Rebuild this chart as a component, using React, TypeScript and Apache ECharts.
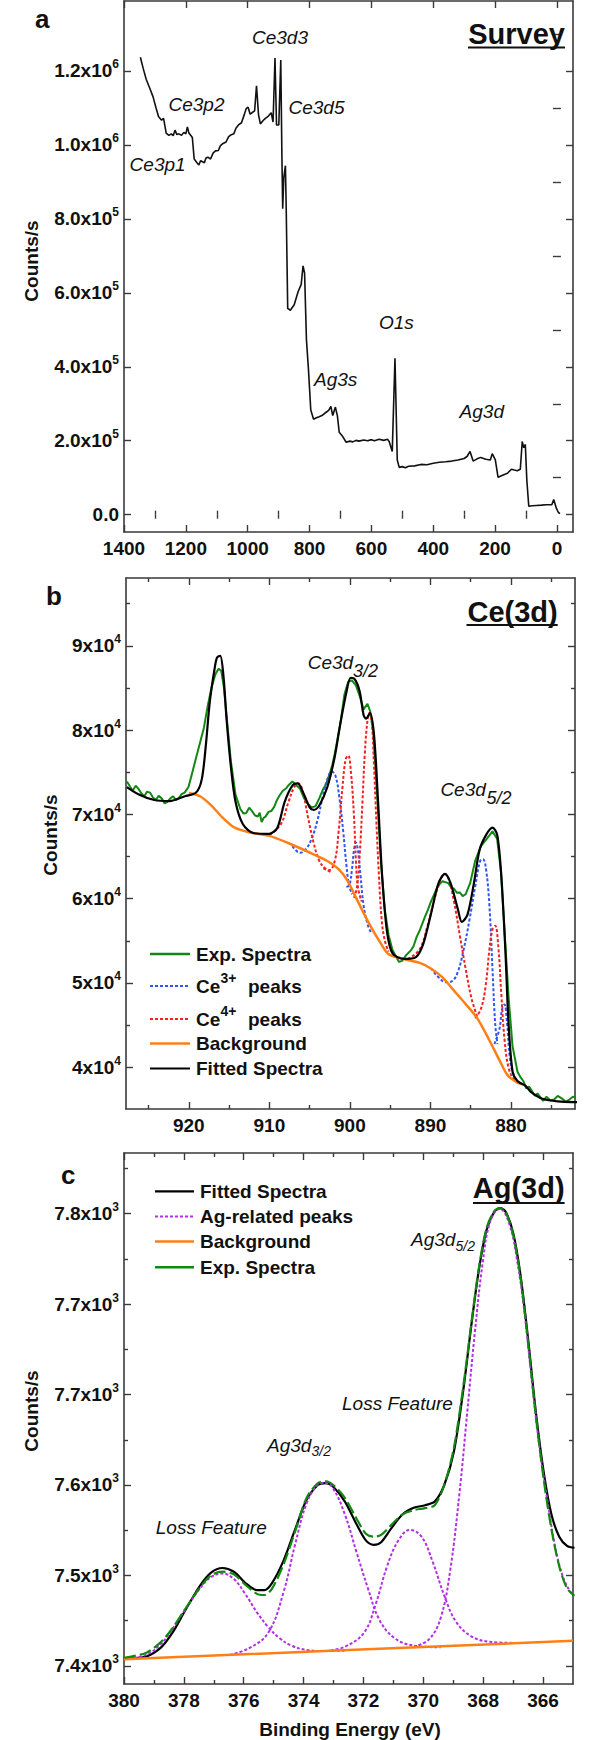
import React, { useEffect, useRef } from 'react';
import * as echarts from 'echarts';

const FONT = "'Liberation Sans', Arial, Helvetica, sans-serif";

// ---------------- Panel a: survey ----------------
const surveyBE = [1347, 1338, 1328, 1316, 1306, 1297, 1288.5, 1278.5, 1272, 1263.6, 1255, 1247, 1241, 1235, 1229, 1222.6, 1214, 1206.4, 1200, 1195, 1190, 1185, 1179, 1173, 1164, 1158, 1152, 1148, 1140, 1135, 1129, 1120, 1112, 1104, 1095, 1088, 1079.5, 1070, 1062, 1054.6, 1045, 1038, 1029.8, 1020, 1011, 1005, 998.7, 992, 986.4, 977.6, 971.5, 965, 959, 950, 942.8, 933, 924, 918, 911.7, 906.8, 899.4, 893, 889.4, 886.8, 883.2, 878, 875.5, 870.6, 862, 849.6, 837, 827, 821, 816, 810, 803.5, 796, 787, 778, 768.8, 760, 750, 743, 737.6, 731, 725, 716.4, 710, 704, 694, 681.6, 670, 660, 650, 640, 625, 612, 600, 590, 575, 560, 548, 542.5, 532.5, 523.7, 516.3, 510, 500, 490, 480, 460, 440, 420, 400, 380, 360, 340, 320, 300, 290, 281, 271, 258, 246.4, 230, 215.3, 209.2, 199.2, 190.4, 172, 160, 147, 138, 128.4, 118.4, 112.2, 107.3, 102.2, 97.3, 91, 80, 66.3, 50, 35, 16.5, 10.3, 1.6, -4.8, -10];
const surveyCounts = [1237000, 1207000, 1177000, 1152000, 1130000, 1102000, 1077000, 1067000, 1072000, 1032000, 1026000, 1030000, 1025000, 1040000, 1028000, 1030000, 1026000, 1034000, 1030000, 1049000, 1032000, 1027000, 1020000, 962000, 952000, 946000, 958000, 955000, 952000, 965000, 967000, 962000, 978000, 984000, 985000, 998000, 1004000, 1008000, 1022000, 1027000, 1030000, 1045000, 1054000, 1060000, 1082000, 1098000, 1102000, 1083000, 1087000, 1092000, 1160000, 1082000, 1057000, 1066000, 1072000, 1078000, 1087000, 1062000, 1235000, 1054000, 1054000, 1230000, 972000, 827500, 912000, 944000, 832000, 558000, 553000, 568000, 603000, 623000, 673000, 653000, 473000, 393000, 283000, 258000, 262000, 265000, 268000, 275000, 279000, 283000, 293000, 268000, 291000, 268000, 223000, 213000, 196000, 199000, 197000, 201000, 199000, 202000, 200000, 203000, 200000, 204000, 201000, 204000, 198000, 171000, 423000, 148000, 128000, 130000, 127000, 131000, 132000, 136000, 135000, 139000, 142000, 143000, 145000, 148000, 152000, 158000, 171000, 145000, 151000, 155000, 150000, 148000, 165000, 148000, 101000, 108000, 112000, 123000, 121000, 119000, 123000, 198000, 181000, 190000, 93000, 23000, 24000, 25000, 26000, 27000, 27000, 41000, 17000, 6000, 3000];
const surveyXTicks = [0, 200, 400, 600, 800, 1000, 1200, 1400];
const surveyXMinor = [100, 300, 500, 700, 900, 1100, 1300];
const surveyXLabels = ['0', '200', '400', '600', '800', '1000', '1200', '1400'];
const surveyYTicks = [0, 200000, 400000, 600000, 800000, 1000000, 1200000];
const surveyYMinor = [100000, 300000, 500000, 700000, 900000, 1100000, 1300000];
const surveyYLabels = ['0.0', '2.0x10^5', '4.0x10^5', '6.0x10^5', '8.0x10^5', '1.0x10^6', '1.2x10^6'];

// ---------------- Panel b: Ce(3d) ----------------
const ceExpE = [927.69, 927.3, 926.97, 926.6, 926.25, 925.9, 925.53, 925.2, 924.82, 924.45, 924.1, 923.75, 923.39, 923.0, 922.67, 922.3, 921.95, 921.6, 921.24, 920.9, 920.52, 920.04, 919.56, 919.09, 918.61, 918.13, 917.65, 917.17, 916.7, 916.31, 915.98, 915.65, 915.26, 914.78, 914.21, 913.59, 913.2, 912.87, 912.5, 912.15, 911.8, 911.44, 911.2, 910.96, 910.7, 910.48, 910.1, 909.77, 909.4, 909.05, 908.7, 908.33, 907.9, 907.62, 907.14, 906.66, 906.18, 905.7, 905.22, 904.75, 904.27, 903.79, 903.31, 902.95, 902.6, 902.2, 901.88, 901.16, 900.68, 900.21, 899.73, 899.25, 898.77, 898.3, 897.82, 897.48, 897.11, 896.63, 896.15, 895.67, 895.2, 894.72, 894.24, 893.9, 893.52, 893.1, 892.81, 892.4, 892.09, 891.7, 891.37, 890.66, 890.3, 889.94, 889.22, 888.8, 888.51, 887.79, 887.4, 887.07, 886.7, 886.36, 886.0, 885.64, 885.07, 884.45, 883.73, 883.01, 882.3, 881.72, 881.24, 880.77, 880.29, 879.81, 879.19, 878.8, 878.47, 878.1, 877.76, 877.4, 877.04, 876.7, 876.32, 876.0, 875.61, 875.1, 874.65, 874.2, 873.7, 873.2, 872.74, 872.3, 871.79];
const ceExpC = [73900, 73300, 72807, 73400, 73026, 72500, 72149, 72700, 72588, 72000, 71711, 72200, 71930, 71300, 71491, 71900, 72149, 71700, 71930, 72400, 72588, 73246, 75000, 76754, 78509, 80263, 82895, 85088, 86623, 87281, 87061, 85088, 81140, 76316, 72368, 70614, 70100, 70175, 70800, 70395, 69900, 69737, 70200, 69079, 69600, 69737, 70300, 70395, 70900, 71711, 72300, 72807, 73100, 73465, 73904, 73465, 73026, 71930, 71272, 70833, 70965, 71930, 73026, 73600, 74561, 75800, 77193, 80921, 84211, 85746, 85877, 85307, 83991, 82456, 83114, 82237, 79825, 72368, 64474, 58772, 55702, 53947, 53070, 52500, 52631, 53200, 53509, 53900, 54386, 55500, 56140, 57895, 58700, 59649, 61184, 61800, 62061, 61842, 61300, 61184, 60700, 60746, 60300, 60526, 61842, 64474, 66228, 67105, 67983, 67105, 63158, 55702, 48246, 42544, 39474, 38800, 38377, 37500, 37719, 37200, 36623, 36900, 36404, 36000, 36491, 36100, 36184, 36600, 36316, 35900, 36184, 36500, 36404];

const ce3aE = [907.14, 906.18, 905.46, 904.75, 904.03, 903.31, 902.74, 902.26, 901.78, 901.3, 900.83, 900.44, 900.11, 899.73];
const ce3aC = [66228, 65438, 65877, 67105, 69298, 72368, 74342, 75088, 74561, 71930, 67983, 64035, 61623, 60526];
const ce3bE = [900.44, 900.06, 899.73, 899.49, 899.25, 899.01, 898.68, 898.3, 897.82, 897.35];
const ce3bC = [61404, 61623, 63596, 65789, 66667, 65789, 62719, 59210, 57017, 55921];
const ce3cE = [889.94, 888.98, 888.03, 887.31, 886.6, 885.88, 885.16, 884.45, 883.83, 883.49, 883.11, 882.68, 882.3, 881.96, 881.68];
const ce3cC = [51754, 50658, 50088, 50219, 51316, 53947, 57456, 61404, 64474, 64693, 63596, 59210, 51754, 45175, 42763];
const ce3dE = [882.06, 881.44, 881.1, 880.82, 880.48, 880.15, 879.67, 878.95];
const ce3dC = [42763, 44518, 46930, 47456, 45175, 41228, 39035, 38158];

const ce4aE = [910.0, 908.57, 907.62, 906.9, 906.42, 905.94, 905.22, 904.51, 903.79, 903.07, 902.36];
const ce4aC = [67544, 68860, 71491, 73246, 73684, 73026, 69737, 66667, 64474, 63596, 63158];
const ce4bE = [903.31, 902.6, 901.88, 901.4, 900.92, 900.53, 900.21, 899.87, 899.49, 899.25, 899.01, 898.54];
const ce4bC = [63596, 63377, 64474, 67983, 73246, 76535, 76973, 75000, 69737, 64474, 61404, 59649];
const ce4cE = [899.49, 899.11, 898.77, 898.44, 898.15, 897.82, 897.58, 897.3, 897.01, 896.72, 896.39, 896.05, 895.67, 895.2];
const ce4cC = [60088, 61404, 65351, 71491, 77193, 81140, 82018, 81140, 75877, 69298, 62719, 57456, 55044, 53728];
const ce4dE = [892.81, 891.37, 890.42, 889.46, 888.75, 888.27, 887.79, 887.07, 886.36, 885.64, 884.92, 884.21];
const ce4dC = [52850, 53947, 56579, 60088, 62281, 62939, 62500, 59649, 55702, 51754, 48246, 46053];
const ce4eE = [884.45, 883.73, 883.16, 882.68, 882.3, 881.96, 881.58, 881.2, 880.77, 880.29, 879.67, 878.95];
const ce4eC = [45833, 46930, 49561, 53947, 56360, 56798, 54386, 48684, 42982, 39912, 38596, 38070];

const ceBgE = [920.0, 918.6, 917.2, 915.7, 914.3, 912.4, 910.0, 907.6, 905.2, 902.8, 901.4, 900.4, 899.0, 897.6, 896.1, 895.2, 893.3, 891.4, 890.0, 888.5, 887.1, 885.7, 884.2, 882.8, 881.4, 880.4, 879.3, 878.5];
const ceBgC = [72544, 72150, 71052, 69518, 68420, 67851, 67456, 66579, 65570, 64474, 63509, 62281, 59649, 57017, 54605, 53421, 52850, 52412, 51754, 50657, 49122, 47587, 45832, 43420, 40789, 39034, 38245, 37938];

const ceFitE = [927.7, 926.2, 924.3, 922.4, 920.5, 919.1, 918.4, 917.9, 917.4, 916.8, 916.5, 916.1, 915.7, 915.3, 914.8, 914.2, 913.3, 911.9, 910.0, 909.0, 908.1, 907.1, 906.5, 905.7, 905.0, 904.5, 903.8, 902.8, 901.9, 901.2, 900.4, 899.9, 899.4, 898.8, 898.3, 898.0, 897.5, 897.0, 896.5, 896.0, 895.4, 894.7, 893.3, 891.8, 890.9, 889.9, 889.0, 888.2, 887.5, 886.6, 886.1, 885.4, 884.6, 883.9, 883.1, 882.3, 881.7, 881.2, 880.7, 880.3, 879.8, 879.2, 878.2, 877.5, 876.1, 874.2, 871.8];
const ceFitC = [73246, 72368, 71710, 71579, 72149, 72588, 74123, 78070, 83333, 87281, 88596, 88816, 86404, 81140, 75877, 71491, 68860, 67763, 67700, 68421, 71491, 73465, 73684, 72368, 70833, 70526, 71052, 73246, 76754, 80702, 84649, 86184, 86053, 84649, 81798, 81360, 82018, 79386, 71491, 62719, 56140, 53509, 52850, 53070, 54605, 58333, 61842, 62939, 61842, 58772, 57237, 58114, 61842, 65789, 67544, 68421, 67544, 62719, 53947, 45175, 39474, 38377, 37807, 37061, 36272, 35965, 35877];

const ceXTicks = [880, 890, 900, 910, 920];
const ceXMinor = [875, 885, 895, 905, 915, 925];
const ceXLabels = ['880', '890', '900', '910', '920'];
const ceYTicks = [40000, 50000, 60000, 70000, 80000, 90000];
const ceYMinor = [45000, 55000, 65000, 75000, 85000, 95000];
const ceYLabels = ['4x10^4', '5x10^4', '6x10^4', '7x10^4', '8x10^4', '9x10^4'];

// ---------------- Panel c: Ag(3d) ----------------
const agFitE = [379.9, 379.27, 378.76, 378.38, 377.99, 377.48, 377.1, 376.71, 376.33, 375.95, 375.56, 375.31, 375.05, 374.67, 374.28, 373.9, 373.52, 373.26, 373.01, 372.62, 372.24, 371.92, 371.66, 371.41, 371.09, 370.7, 370.32, 369.94, 369.62, 369.3, 368.98, 368.66, 368.4, 368.15, 367.89, 367.63, 367.44, 367.25, 366.99, 366.74, 366.48, 366.23, 365.97, 365.72, 365.46, 365.2, 364.95];
const agFitC = [7426.5, 7428.2, 7436.4, 7449.4, 7467.4, 7490.2, 7502.3, 7506.6, 7503.3, 7493.5, 7487.0, 7487.0, 7493.5, 7513.1, 7540.9, 7566.9, 7580.0, 7581.7, 7578.4, 7565.3, 7545.7, 7531.0, 7527.1, 7529.4, 7540.9, 7553.9, 7559.8, 7562.1, 7565.3, 7580.0, 7609.4, 7664.9, 7720.4, 7769.4, 7805.3, 7821.6, 7824.9, 7821.6, 7802.0, 7762.9, 7704.1, 7642.0, 7589.8, 7553.9, 7534.3, 7526.2, 7524.5];
const agExpE = [380.0, 379.27, 378.76, 378.38, 377.99, 377.48, 377.1, 376.71, 376.33, 375.95, 375.56, 375.31, 375.05, 374.67, 374.28, 373.9, 373.52, 373.26, 373.01, 372.62, 372.24, 371.92, 371.66, 371.41, 371.09, 370.7, 370.32, 369.94, 369.62, 369.3, 368.98, 368.66, 368.4, 368.15, 367.89, 367.63, 367.44, 367.25, 366.99, 366.74, 366.48, 366.23, 365.97, 365.72, 365.46, 365.2, 364.95];
const agExpC = [7427.2, 7431.5, 7441.3, 7453.3, 7469.0, 7488.6, 7500.0, 7503.3, 7501.0, 7491.9, 7483.7, 7482.7, 7488.6, 7509.8, 7539.2, 7568.6, 7581.7, 7583.3, 7580.0, 7568.6, 7550.6, 7536.9, 7534.3, 7535.9, 7544.1, 7553.9, 7557.8, 7559.5, 7562.1, 7580.0, 7612.7, 7668.2, 7722.0, 7771.0, 7807.0, 7822.3, 7824.9, 7821.6, 7800.4, 7761.2, 7700.8, 7638.8, 7583.3, 7540.9, 7508.2, 7488.6, 7482.0];
const agBgE = [380.0, 372.5, 365.0];
const agBgC = [7425.9, 7434.0, 7442.2];

const agPk1E = [380.0, 379.27, 378.76, 378.38, 377.99, 377.48, 377.1, 376.71, 376.33, 375.95, 375.56, 375.18, 374.8, 374.41, 373.9, 373.26, 372.6];
const agPk1C = [7425.9, 7429.8, 7439.6, 7452.7, 7468.4, 7488.0, 7498.4, 7501.7, 7496.8, 7483.7, 7467.4, 7454.3, 7444.5, 7438.0, 7434.1, 7433.1, 7433.6];
const agPk2E = [376.46, 375.82, 375.18, 374.67, 374.28, 373.9, 373.52, 373.26, 373.01, 372.62, 372.24, 371.85, 371.47, 370.96, 370.32, 369.42];
const agPk2C = [7429.8, 7435.7, 7449.4, 7485.3, 7527.8, 7563.7, 7580.0, 7581.7, 7576.8, 7553.9, 7521.3, 7488.6, 7460.9, 7444.5, 7438.0, 7436.4];
const agPk3E = [373.26, 372.62, 371.98, 371.6, 371.21, 370.83, 370.45, 370.06, 369.68, 369.3, 368.91, 368.4, 367.76, 366.87];
const agPk3C = [7433.1, 7437.0, 7449.4, 7473.9, 7508.2, 7531.1, 7540.2, 7534.3, 7511.5, 7482.1, 7459.2, 7446.2, 7441.3, 7440.3];
const agPk4E = [370.32, 369.81, 369.42, 369.1, 368.79, 368.53, 368.27, 368.02, 367.76, 367.44, 367.12, 366.87, 366.61, 366.36, 366.1, 365.84, 365.59, 365.33, 365.08, 364.95];
const agPk4C = [7437.0, 7443.5, 7462.5, 7504.9, 7573.5, 7645.3, 7717.2, 7775.9, 7813.5, 7824.2, 7810.2, 7779.2, 7730.2, 7668.2, 7609.4, 7563.7, 7524.5, 7498.4, 7485.3, 7482.1];

const agXTicks = [366, 368, 370, 372, 374, 376, 378, 380];
const agXMinor = [367, 369, 371, 373, 375, 377, 379];
const agXLabels = ['366', '368', '370', '372', '374', '376', '378', '380'];
const agYTicks = [7420, 7500, 7580, 7660, 7740, 7820];
const agYMinor = [7460, 7540, 7620, 7700, 7780, 7860];
const agYLabels = ['7.4x10^3', '7.5x10^3', '7.6x10^3', '7.7x10^3', '7.7x10^3', '7.8x10^3'];

// ---------------- helpers ----------------
const AX = '#3a3a3a';
const TXT = '#111';
const GREEN = '#138713';
const BLUE = '#2f56f2';
const RED = '#f22020';
const ORANGE = '#ff7f17';
const PURPLE = '#b32ee6';

const RICH = {
  b: { fontSize: 19, fontWeight: 'bold', fontFamily: FONT, color: TXT },
  s: { fontSize: 12, fontWeight: 'bold', fontFamily: FONT, color: TXT, padding: [0, 0, 13, 0] },
};

function zip(xs: number[], ys: number[]) {
  return xs.map((x, i) => [x, ys[i]]);
}

function frame(kind: 'x' | 'y', grid: number, min: number, max: number, major: number[], minor: number[], labels: string[], margin: number) {
  const isX = kind === 'x';
  const base: any = { type: 'value', gridIndex: grid, min, max, inverse: isX, splitLine: { show: false }, silent: true };
  const lineOn = { show: true, onZero: false, lineStyle: { color: AX, width: 1.6 } };
  const tickStyle = { color: AX, width: 1.4 };
  const fmt = (v: number) => {
    let k = 0;
    let best = Infinity;
    major.forEach((m, i) => {
      const d = Math.abs(m - v);
      if (d < best) { best = d; k = i; }
    });
    const s = labels[k];
    const p = s.indexOf('^');
    return p < 0 ? `{b|${s}}` : `{b|${s.slice(0, p)}}{s|${s.slice(p + 1)}}`;
  };
  const pA = isX ? 'bottom' : 'left';
  const pB = isX ? 'top' : 'right';
  return [
    { ...base, position: pA, axisLine: lineOn, axisTick: { show: true, inside: true, length: 7, customValues: major, lineStyle: tickStyle }, axisLabel: { show: true, customValues: major, formatter: fmt, margin, rich: RICH } },
    { ...base, position: pA, axisLine: { show: false }, axisTick: { show: true, inside: true, length: 4, customValues: minor, lineStyle: tickStyle }, axisLabel: { show: false } },
    { ...base, position: pB, axisLine: lineOn, axisTick: { show: true, inside: true, length: 7, customValues: major, lineStyle: tickStyle }, axisLabel: { show: false } },
    { ...base, position: pB, axisLine: { show: false }, axisTick: { show: true, inside: true, length: 4, customValues: minor, lineStyle: tickStyle }, axisLabel: { show: false } },
  ];
}

function line(grid: number, data: number[][], color: string, width: number, dash: any, z: number, smooth: number | boolean = false) {
  return {
    type: 'line', xAxisIndex: grid * 4, yAxisIndex: grid * 4, data, showSymbol: false, symbol: 'none', smooth,
    lineStyle: { color, width, type: dash }, z, silent: true, clip: true,
  };
}

function T(x: number, y: number, text: string, size: number, opts: any = {}) {
  return {
    type: 'text', x, y, rotation: opts.rotation || 0, z: 100,
    style: {
      text, fill: TXT, fontFamily: FONT, fontSize: size,
      fontWeight: opts.weight || 'normal', fontStyle: opts.italic ? 'italic' : 'normal',
      align: opts.align || 'left', textAlign: opts.align || 'left',
      verticalAlign: 'middle', textVerticalAlign: 'middle',
    },
  };
}

function L(x1: number, y1: number, x2: number, y2: number, color: string, width: number, dash?: number[]) {
  return { type: 'line', z: 100, shape: { x1, y1, x2, y2 }, style: { stroke: color, lineWidth: width, lineDash: dash || null } };
}

export default function App() {
  const ref = useRef<HTMLDivElement>(null);
  useEffect(() => {
    if (!ref.current) return;
    const chart = echarts.init(ref.current, null, { renderer: 'svg' });
    const DOT = [3, 2];
    const option: any = {
      animation: false,
      grid: [
        { left: 124, top: 1, width: 449, height: 531 },
        { left: 126, top: 578, width: 449, height: 531 },
        { left: 124, top: 1153, width: 449, height: 531 },
      ],
      xAxis: [
        ...frame('x', 0, -52, 1400, surveyXTicks, surveyXMinor, surveyXLabels, 7),
        ...frame('x', 1, 872.05, 927.8, ceXTicks, ceXMinor, ceXLabels, 7),
        ...frame('x', 2, 365, 380, agXTicks, agXMinor, agXLabels, 7),
      ],
      yAxis: [
        ...frame('y', 0, -46800, 1389300, surveyYTicks, surveyYMinor, surveyYLabels, 5),
        ...frame('y', 1, 35053, 98043, ceYTicks, ceYMinor, ceYLabels, 5),
        ...frame('y', 2, 7404, 7873.6, agYTicks, agYMinor, agYLabels, 5),
      ],
      series: [
        line(0, zip(surveyBE, surveyCounts), '#111', 1.6, 'solid', 2),

        line(1, zip(ceExpE, ceExpC), GREEN, 2, 'solid', 2),
        line(1, zip(ce3aE, ce3aC), BLUE, 2, DOT, 3, 0.4),
        line(1, zip(ce3bE, ce3bC), BLUE, 2, DOT, 3, 0.4),
        line(1, zip(ce3cE, ce3cC), BLUE, 2, DOT, 3, 0.4),
        line(1, zip(ce3dE, ce3dC), BLUE, 2, DOT, 3, 0.4),
        line(1, zip(ce4aE, ce4aC), RED, 2, DOT, 4, 0.4),
        line(1, zip(ce4bE, ce4bC), RED, 2, DOT, 4, 0.4),
        line(1, zip(ce4cE, ce4cC), RED, 2, DOT, 4, 0.4),
        line(1, zip(ce4dE, ce4dC), RED, 2, DOT, 4, 0.4),
        line(1, zip(ce4eE, ce4eC), RED, 2, DOT, 4, 0.4),
        line(1, zip(ceBgE, ceBgC), ORANGE, 2.5, 'solid', 5, 0.3),
        line(1, zip(ceFitE, ceFitC), '#000', 2.2, 'solid', 6, 0.3),

        line(2, zip(agFitE, agFitC), '#000', 2.2, 'solid', 2, 0.3),
        line(2, zip(agPk1E, agPk1C), PURPLE, 2, DOT, 3, 0.4),
        line(2, zip(agPk2E, agPk2C), PURPLE, 2, DOT, 3, 0.4),
        line(2, zip(agPk3E, agPk3C), PURPLE, 2, DOT, 3, 0.4),
        line(2, zip(agPk4E, agPk4C), PURPLE, 2, DOT, 3, 0.4),
        line(2, zip(agBgE, agBgC), ORANGE, 2.5, 'solid', 4),
        line(2, zip(agExpE, agExpC), GREEN, 2.2, [12, 4], 5, 0.3),
      ],
      graphic: {
        elements: [
          // panel letters
          T(35, 19, 'a', 26, { weight: 'bold' }),
          T(46, 596, 'b', 26, { weight: 'bold' }),
          T(61, 1175, 'c', 26, { weight: 'bold' }),
          // titles
          T(565, 34, 'Survey', 29, { weight: 'bold', align: 'right' }),
          L(468, 47.5, 565, 47.5, '#111', 2.2),
          T(557.7, 611.5, 'Ce(3d)', 29, { weight: 'bold', align: 'right' }),
          L(466.5, 625, 557.7, 625, '#111', 2.2),
          T(564.6, 1187.5, 'Ag(3d)', 29, { weight: 'bold', align: 'right' }),
          L(473, 1203, 564.6, 1203, '#111', 2.2),
          // axis names
          T(31, 261, 'Counts/s', 19, { weight: 'bold', align: 'center', rotation: Math.PI / 2 }),
          T(50, 835, 'Counts/s', 19, { weight: 'bold', align: 'center', rotation: Math.PI / 2 }),
          T(31, 1411, 'Counts/s', 19, { weight: 'bold', align: 'center', rotation: Math.PI / 2 }),
          T(350, 1729, 'Binding Energy (eV)', 19, { weight: 'bold', align: 'center' }),
          // survey annotations
          T(252, 37, 'Ce3d3', 19, { italic: true }),
          T(168.5, 104.5, 'Ce3p2', 19, { italic: true }),
          T(288.5, 107, 'Ce3d5', 19, { italic: true }),
          T(129.6, 164.4, 'Ce3p1', 19, { italic: true }),
          T(379, 322, 'O1s', 19, { italic: true }),
          T(314, 379.4, 'Ag3s', 19, { italic: true }),
          T(459.6, 411, 'Ag3d', 19, { italic: true }),
          // Ce annotations
          T(307.7, 662, 'Ce3d', 19, { italic: true }),
          T(353, 670.5, '3/2', 18, { italic: true }),
          T(440.4, 789.5, 'Ce3d', 19, { italic: true }),
          T(486.5, 798, '5/2', 18, { italic: true }),
          // Ce legend
          L(150, 954, 190, 954, GREEN, 2.5),
          T(196, 954, 'Exp. Spectra', 19, { weight: 'bold' }),
          L(150, 986, 190, 986, BLUE, 2, DOT),
          T(196, 986, 'Ce', 19, { weight: 'bold' }),
          T(220.5, 978, '3+', 14, { weight: 'bold' }),
          T(248, 986, 'peaks', 19, { weight: 'bold' }),
          L(150, 1019, 190, 1019, RED, 2, DOT),
          T(196, 1019, 'Ce', 19, { weight: 'bold' }),
          T(220.5, 1011, '4+', 14, { weight: 'bold' }),
          T(248, 1019, 'peaks', 19, { weight: 'bold' }),
          L(150, 1043.5, 190, 1043.5, ORANGE, 2.5),
          T(196, 1043.5, 'Background', 19, { weight: 'bold' }),
          L(150, 1068.5, 190, 1068.5, '#000', 2.2),
          T(196, 1068.5, 'Fitted Spectra', 19, { weight: 'bold' }),
          // Ag annotations
          T(411, 1239.4, 'Ag3d', 19, { italic: true }),
          T(455.5, 1245.5, '5/2', 14, { italic: true }),
          T(342, 1403.8, 'Loss Feature', 19, { italic: true }),
          T(267, 1445, 'Ag3d', 19, { italic: true }),
          T(311.5, 1451, '3/2', 14, { italic: true }),
          T(155.8, 1527.6, 'Loss Feature', 19, { italic: true }),
          // Ag legend
          L(155, 1191.4, 194, 1191.4, '#000', 2.2),
          T(200, 1191.4, 'Fitted Spectra', 19, { weight: 'bold' }),
          L(155, 1216.6, 194, 1216.6, PURPLE, 2, DOT),
          T(200, 1216.6, 'Ag-related peaks', 19, { weight: 'bold' }),
          L(155, 1241.6, 194, 1241.6, ORANGE, 2.5),
          T(200, 1241.6, 'Background', 19, { weight: 'bold' }),
          L(155, 1267.2, 194, 1267.2, GREEN, 2.5),
          T(200, 1267.2, 'Exp. Spectra', 19, { weight: 'bold' }),
        ],
      },
    };
    chart.setOption(option);
    return () => chart.dispose();
  }, []);
  return (
    <div
      ref={ref}
      style={{ position: 'absolute', left: 0, top: 0, width: 600, height: 1740, background: '#fff' }}
    />
  );
}
